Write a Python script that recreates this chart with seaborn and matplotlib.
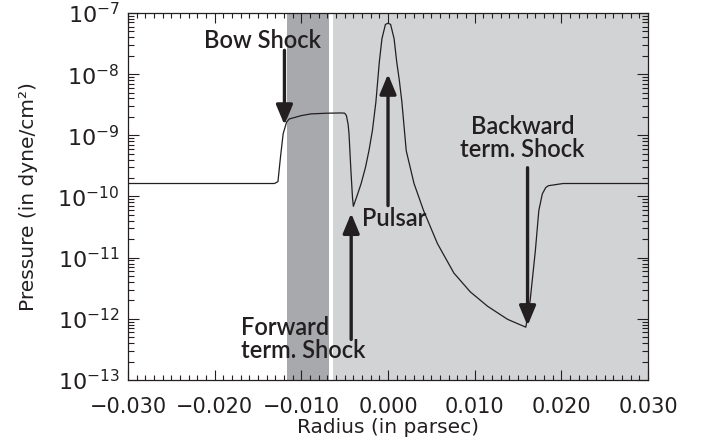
import numpy as np
import pandas as pd
import matplotlib
matplotlib.use("Agg")
import matplotlib.pyplot as plt
import matplotlib.ticker as mticker
import seaborn as sns

# pressure profile
radius = [-0.030, -0.0131, -0.0127, -0.0124, -0.0121, -0.0117, -0.0114, -0.0100, -0.0089,
          -0.0070, -0.0054, -0.0050, -0.0048, -0.0046, -0.0045, -0.0043, -0.0041, -0.0040,
          -0.0036, -0.0031, -0.0026, -0.0022, -0.0018, -0.0014, -0.0010, -0.0007, -0.0003, 0.0,
          0.0003, 0.0007, 0.0010, 0.0013, 0.0016, 0.0021, 0.0030, 0.0041, 0.0057, 0.0076,
          0.0095, 0.0115, 0.0138, 0.0159, 0.0164, 0.0170, 0.0174, 0.0178, 0.0182, 0.0185,
          0.0202, 0.030]
pressure = [1.63e-10, 1.63e-10, 1.75e-10, 4.5e-10, 1.06e-9, 1.65e-9, 1.85e-9, 2.1e-9, 2.24e-9,
            2.3e-9, 2.32e-9, 2.3e-9, 2.1e-9, 1.5e-9, 1.06e-9, 2.96e-10, 9.6e-11, 6.9e-11,
            1.0e-10, 1.63e-10, 3.0e-10, 5.6e-10, 1.2e-9, 3.5e-9, 1.6e-8, 3.8e-8, 6.5e-8, 6.8e-8,
            6.5e-8, 3.8e-8, 1.6e-8, 8e-9, 3.5e-9, 5.6e-10, 1.63e-10, 5.9e-11, 1.7e-11, 5.6e-12,
            2.75e-12, 1.6e-12, 9.8e-13, 7.3e-13, 2.0e-12, 1.3e-11, 5.9e-11, 1.1e-10, 1.4e-10, 1.5e-10,
            1.63e-10, 1.63e-10]

# shaded regions (radius ranges)
dark_band = (-0.0117, -0.0068)
light_band = (-0.0063, 0.030)

# annotations: label, text position, arrow tail, arrow tip
labels = ["Bow Shock", "Forward\nterm. Shock", "Pulsar", "Backward\nterm. Shock"]
text_x = [-0.0145, -0.0170, 0.0007, 0.0155]
text_y = [3.5e-8, 4.6e-13, 4.3e-11, 9.1e-10]
text_ha = ["center", "left", "center", "center"]
arrow_x = [-0.01195, -0.00425, 0.0, 0.0161]
arrow_tail = [2.45e-8, 4.6e-13, 7.1e-11, 2.95e-10]
arrow_tip = [1.48e-9, 5.3e-11, 1.0e-8, 7.7e-13]

df = pd.DataFrame({"radius": radius, "pressure": pressure})

sns.set_style("ticks")
plt.rcParams['font.family'] = ['DejaVu Sans']
plt.rcParams['mathtext.default'] = 'regular'
ink = "#231f20"

fig = plt.figure(figsize=(7.08, 4.46), dpi=100)
ax = fig.add_axes([0.1808, 0.148, 0.7345, 0.8229])

ax.axvspan(*dark_band, color="#a7a9ac", lw=0, zorder=0)
ax.axvspan(*light_band, color="#d1d3d4", lw=0, zorder=0)

sns.lineplot(data=df, x="radius", y="pressure", color=ink, lw=0.9, ax=ax, zorder=3)

ax.set_yscale("log")
ax.set_xlim(-0.03, 0.03)
ax.set_ylim(1e-13, 1e-7)

for lab, tx, ty, ha, ax_, tail, tip in zip(labels, text_x, text_y, text_ha,
                                             arrow_x, arrow_tail, arrow_tip):
    ax.text(tx, ty, lab, ha=ha, va="center", fontsize=17, color=ink,
            family="Lato", fontweight="semibold", linespacing=1.0, zorder=5)
    ax.annotate("", xy=(ax_, tip), xytext=(ax_, tail),
                arrowprops=dict(arrowstyle="-|>,head_length=0.6,head_width=0.25",
                                mutation_scale=20, lw=2.4, color=ink,
                                shrinkA=0, shrinkB=0), zorder=6)

ax.xaxis.set_major_locator(mticker.MultipleLocator(0.01))
ax.xaxis.set_minor_locator(mticker.MultipleLocator(0.001))
ax.xaxis.set_major_formatter(mticker.FuncFormatter(lambda v, p: f"{v:.3f}".replace("-", "\u2212")))
ax.yaxis.set_major_locator(mticker.LogLocator(base=10, numticks=10))
ax.yaxis.set_minor_locator(mticker.LogLocator(base=10, subs=np.arange(2, 10), numticks=10))
ax.yaxis.set_major_formatter(mticker.FuncFormatter(
    lambda v, p: "$10^{%d}$" % round(np.log10(v)) if v > 0 else ""))

ax.tick_params(which="both", direction="in", top=True, right=True, color=ink,
               labelcolor=ink, labelsize=15)
ax.tick_params(axis="x", which="major", length=7, width=0.8, pad=12)
ax.tick_params(axis="x", which="minor", length=3.5, width=0.8)
ax.tick_params(axis="y", which="major", length=8, width=0.8, pad=6, labelsize=16)
ax.tick_params(axis="y", which="minor", length=4, width=0.8)
for s in ax.spines.values():
    s.set_linewidth(0.9)
    s.set_color(ink)

ax.set_xlabel("Radius (in parsec)", fontsize=14.5, color=ink, labelpad=1)
ax.set_ylabel("Pressure (in dyne/cm²)", fontsize=14.5, color=ink, labelpad=14)

fig.savefig("out.png", dpi=100)
